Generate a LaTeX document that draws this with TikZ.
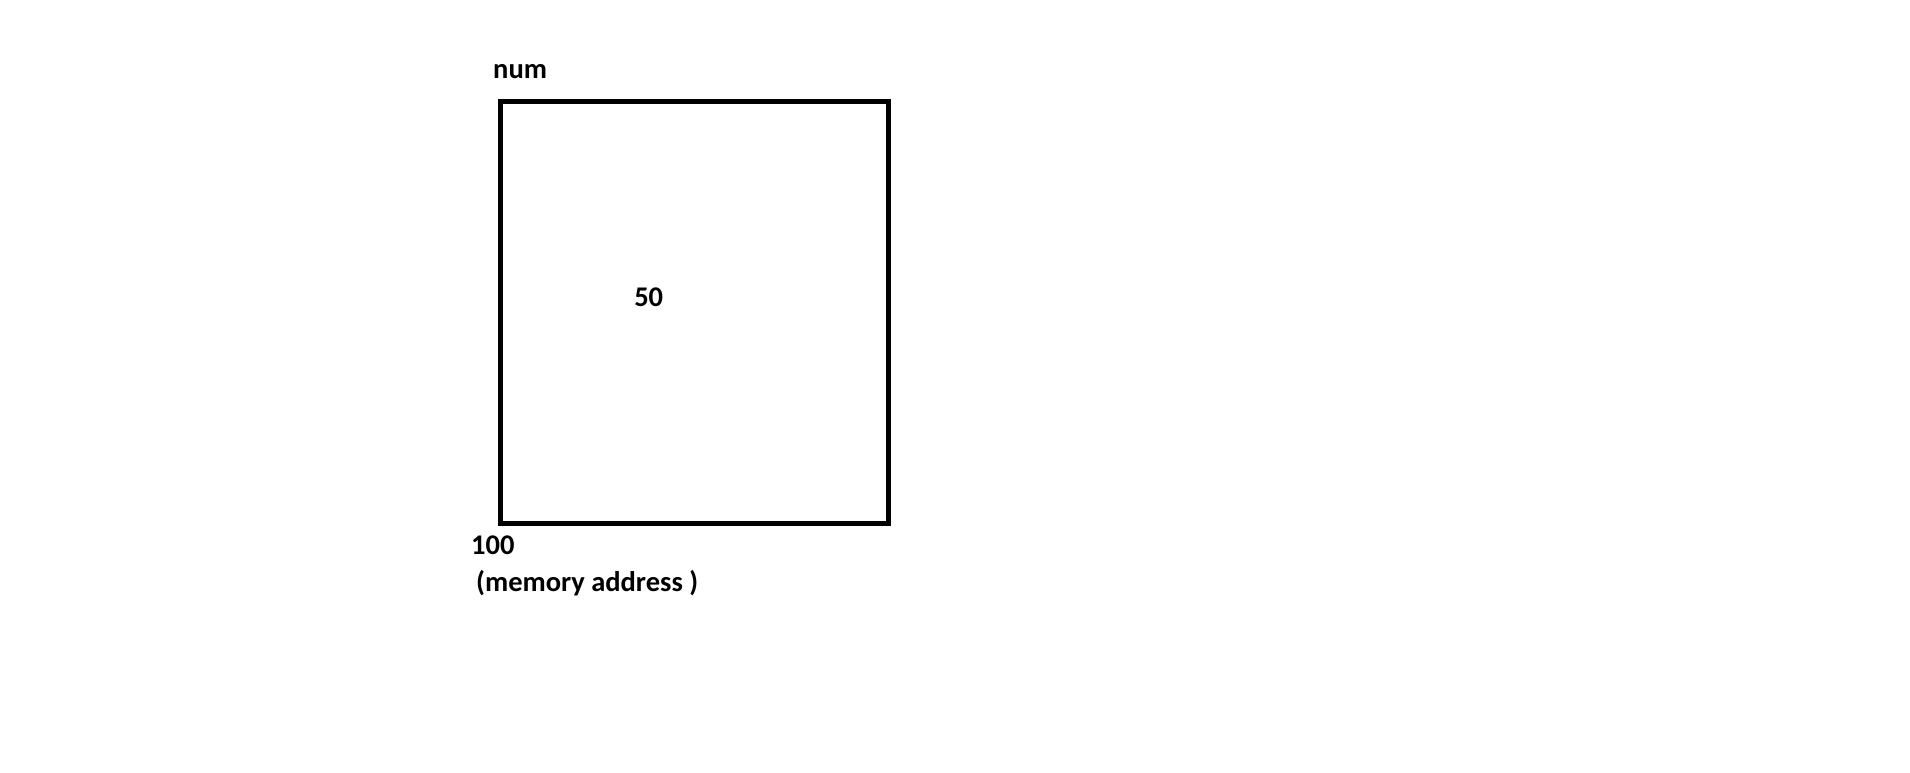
\documentclass[tikz,border=0pt]{standalone}
\usepackage{fontspec}
\setmainfont{Carlito}

\begin{document}
\begin{tikzpicture}[x=1pt,y=-1pt,every node/.style={font=\fontsize{28.5}{34}\selectfont\bfseries,inner sep=0pt},
	cell/.style={draw,line width=5pt,minimum width=387.5pt,minimum height=421.6pt}]
	\useasboundingbox (0,0) rectangle (1910,772);
	\node[cell] (box) at (694.5,312.5) {};
	\node[anchor=base west] (name) at (493,78.3) {num};
	\node (value) at (648.7,297.5) {50};
	\node[anchor=base west] (addr) at (471,554) {100};
	\node[anchor=base west] (note) at (476,591.7) {(memory address )};
\end{tikzpicture}
\end{document}
